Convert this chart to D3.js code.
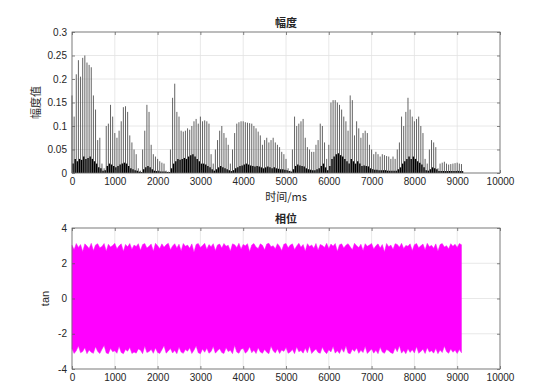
<!DOCTYPE html>
<html><head><meta charset="utf-8">
<script src="https://cdn.jsdelivr.net/npm/d3@7"></script>
<style>
body{margin:0;background:#fff}
svg{display:block}
text{font-family:"Liberation Sans",Arial,"Noto Sans CJK SC",sans-serif;fill:#262626}
.cjk{font-family:"Noto Sans CJK SC","Liberation Sans",sans-serif}
</style>
</head><body>
<svg id="c" width="554" height="383"></svg>
<script>
// ---------- data ----------
const ampStepMs = 50; // spacing of harmonic peaks (ms)
const ampPeaks = [
  0.165,0.12,0.21,0.24,0.205,0.245,0.25,0.235,0.23,0.225,
  0.165,0.135,0.07,0.075,0.02,0.01,0.10,0.105,0.145,0.12,
  0.085,0.075,0.09,0.11,0.14,0.142,0.13,0.08,0.065,0.05,
  0.04,0.01,0.005,0.05,0.09,0.145,0.13,0.06,0.04,0.035,
  0.03,0.025,0.022,0.02,0.005,0.003,0.05,0.16,0.19,0.13,
  0.12,0.09,0.088,0.09,0.095,0.092,0.10,0.11,0.115,0.105,
  0.12,0.11,0.112,0.11,0.105,0.04,0.02,0.05,0.07,0.09,
  0.10,0.085,0.075,0.06,0.02,0.05,0.085,0.105,0.108,0.11,
  0.11,0.108,0.107,0.106,0.105,0.10,0.095,0.088,0.08,0.06,
  0.07,0.075,0.065,0.07,0.075,0.065,0.06,0.055,0.045,0.04,
  0.03,0.01,0.005,0.05,0.12,0.10,0.105,0.11,0.115,0.075,
  0.055,0.05,0.045,0.045,0.06,0.07,0.105,0.10,0.065,0.03,
  0.06,0.15,0.155,0.155,0.15,0.145,0.135,0.12,0.11,0.09,
  0.165,0.155,0.08,0.11,0.095,0.075,0.085,0.09,0.085,0.06,
  0.05,0.04,0.045,0.04,0.035,0.04,0.038,0.036,0.035,0.03,
  0.035,0.03,0.05,0.065,0.12,0.10,0.13,0.16,0.135,0.12,
  0.11,0.115,0.12,0.10,0.085,0.03,0.02,0.05,0.07,0.065,
  0.055,0.01,0.02,0.022,0.024,0.02,0.018,0.019,0.02,0.021,
  0.022,0.02,0.019
];
const ampLow = [
  0.02,0.03,0.025,0.03,0.028,0.035,0.03,0.032,0.035,0.03,
  0.025,0.02,0.012,0.01,0.005,0.006,0.015,0.02,0.018,0.015,
  0.012,0.015,0.018,0.02,0.022,0.02,0.015,0.01,0.008,0.006,
  0.005,0.003,0.002,0.008,0.012,0.015,0.012,0.008,0.005,0.004,
  0.004,0.003,0.003,0.003,0.002,0.002,0.01,0.02,0.025,0.03,
  0.028,0.03,0.032,0.03,0.035,0.038,0.04,0.035,0.03,0.025,
  0.02,0.02,0.018,0.015,0.012,0.008,0.005,0.008,0.012,0.015,
  0.012,0.01,0.008,0.006,0.004,0.006,0.01,0.012,0.015,0.016,
  0.018,0.02,0.018,0.016,0.015,0.014,0.015,0.014,0.012,0.01,
  0.012,0.014,0.012,0.01,0.012,0.01,0.009,0.008,0.008,0.007,
  0.006,0.004,0.003,0.008,0.015,0.018,0.016,0.015,0.014,0.01,
  0.008,0.007,0.006,0.006,0.008,0.01,0.015,0.02,0.012,0.006,
  0.015,0.03,0.035,0.04,0.042,0.038,0.035,0.03,0.025,0.02,
  0.03,0.025,0.02,0.025,0.02,0.015,0.016,0.015,0.014,0.01,
  0.008,0.007,0.007,0.006,0.006,0.006,0.006,0.005,0.005,0.005,
  0.005,0.005,0.008,0.012,0.02,0.025,0.03,0.035,0.03,0.035,
  0.03,0.025,0.022,0.018,0.012,0.006,0.005,0.008,0.012,0.01,
  0.008,0.004,0.004,0.004,0.004,0.004,0.004,0.004,0.004,0.004,
  0.004,0.004,0.004
];
const phaseStepMs = 50;
const phaseTop = [
  3.02,2.78,3.12,2.90,3.06,2.66,3.10,2.98,2.84,3.13,
  2.72,3.04,3.11,2.88,2.95,3.12,2.70,3.08,2.92,3.01,
  3.13,2.82,2.99,3.10,2.68,3.07,2.93,3.12,2.80,3.03,
  2.95,3.11,2.74,3.06,3.12,2.86,2.97,3.09,2.69,3.13,
  3.00,2.83,3.10,2.91,3.05,3.13,2.77,2.98,3.11,2.87,
  3.08,2.71,3.12,2.96,3.03,2.85,3.10,2.64,3.07,3.12,
  2.90,3.01,3.13,2.79,3.06,2.94,3.11,2.73,3.04,3.09,
  2.86,3.12,2.97,3.02,2.70,3.10,3.05,2.89,3.13,2.81,
  3.07,2.99,3.11,2.67,3.04,3.12,2.92,2.84,3.10,3.02,
  2.76,3.09,3.13,2.93,3.00,2.82,3.11,2.96,2.72,3.08,
  3.12,2.88,3.03,3.10,2.78,2.98,3.13,2.91,3.06,2.69,
  3.11,2.95,3.04,2.85,3.12,2.75,3.07,3.01,2.90,3.13,
  2.83,3.09,2.97,3.12,2.68,3.05,3.10,2.87,3.02,3.11,
  2.94,2.76,3.13,3.00,2.89,3.08,2.73,3.11,2.96,3.04,
  3.12,2.81,2.99,3.10,2.86,3.06,2.65,3.12,2.93,3.03,
  2.79,3.11,3.07,2.91,3.13,2.84,3.01,2.97,3.10,2.72,
  3.05,3.12,2.88,2.99,3.09,2.77,3.13,2.94,3.02,2.85,
  3.10,2.70,3.06,3.12,2.92,3.00,2.82,3.11,2.96,3.08,
  2.90,3.12,3.05
];
const phaseBot = [
  -2.85,-3.12,-2.96,-2.70,-3.08,-3.01,-2.79,-3.13,-2.92,-3.05,
  -3.11,-2.74,-3.00,-3.12,-2.88,-2.66,-3.09,-3.13,-2.83,-3.02,
  -2.97,-3.11,-2.72,-3.06,-3.13,-2.90,-2.99,-2.78,-3.12,-3.04,
  -3.10,-2.86,-2.94,-3.13,-2.71,-3.07,-3.01,-2.89,-3.11,-2.81,
  -3.06,-3.12,-2.91,-2.68,-3.10,-2.98,-2.84,-3.09,-2.95,-3.13,
  -2.76,-3.04,-3.11,-2.90,-2.99,-2.80,-3.12,-2.93,-2.69,-3.08,
  -3.13,-2.87,-3.05,-2.82,-3.11,-3.00,-2.73,-3.10,-2.96,-2.85,
  -3.07,-3.12,-2.79,-3.01,-2.94,-3.13,-2.67,-3.04,-3.11,-2.88,
  -2.83,-3.10,-2.99,-2.74,-3.08,-2.93,-3.12,-2.80,-3.03,-3.11,
  -2.89,-3.05,-3.13,-2.71,-2.97,-3.09,-2.86,-3.12,-2.92,-3.00,
  -2.78,-3.11,-3.04,-2.90,-3.13,-2.75,-3.02,-2.95,-3.10,-2.82,
  -3.08,-2.69,-3.12,-2.98,-2.87,-3.06,-3.11,-2.77,-3.01,-3.13,
  -2.91,-3.03,-2.72,-3.10,-2.96,-3.12,-2.84,-3.05,-2.70,-3.09,
  -3.13,-2.88,-3.00,-2.81,-3.11,-2.94,-3.07,-2.73,-3.12,-2.99,
  -2.86,-3.10,-2.93,-3.13,-2.76,-3.04,-3.11,-2.89,-2.97,-3.08,
  -3.12,-2.80,-3.02,-2.68,-3.10,-2.95,-3.13,-2.85,-3.06,-2.91,
  -3.09,-2.74,-3.11,-3.00,-2.88,-3.12,-2.79,-3.04,-2.96,-3.10,
  -2.83,-3.13,-2.92,-3.07,-2.71,-3.01,-3.11,-2.87,-3.05,-2.94,
  -3.12,-2.90,-3.08
];
const xTicks = [0,1000,2000,3000,4000,5000,6000,7000,8000,9000,10000];
const ampTicks = [0,0.05,0.1,0.15,0.2,0.25,0.3];
const phaseTicks = [-4,-2,0,2,4];
const titles = ["幅度","相位"];
const xLabel = "时间/ms";
const yLabels = ["幅度值","tan"];

// ---------- layout ----------
const svg = d3.select("#c");
const L = 72, R = 500;
const panels = [
  {top:32, bottom:173, domain:[0,0.3], ticks:ampTicks, title:titles[0], ylab:yLabels[0], ylabX:40, cjk:true},
  {top:228, bottom:369, domain:[-4,4], ticks:phaseTicks, title:titles[1], ylab:yLabels[1], ylabX:49, cjk:false}
];
const x = d3.scaleLinear().domain([0,10000]).range([L,R]);

panels.forEach(p=>{
  const y = d3.scaleLinear().domain(p.domain).range([p.bottom,p.top]);
  p.y = y;
  const g = svg.append("g");
  g.selectAll(".gx").data(xTicks).enter().append("line")
    .attr("x1",d=>x(d)).attr("x2",d=>x(d)).attr("y1",p.top).attr("y2",p.bottom)
    .attr("stroke","#e2e2e2").attr("stroke-width",0.8);
  g.selectAll(".gy").data(p.ticks).enter().append("line")
    .attr("x1",L).attr("x2",R).attr("y1",d=>y(d)).attr("y2",d=>y(d))
    .attr("stroke","#e2e2e2").attr("stroke-width",0.8);
  p.g = g;
});

// amplitude spikes
const p0 = panels[0], y0 = p0.y;
const dataG = p0.g.append("g");
dataG.selectAll(".sp").data(ampPeaks).enter().append("line")
  .attr("x1",(d,i)=>x(i*ampStepMs)).attr("x2",(d,i)=>x(i*ampStepMs))
  .attr("y1",y0(0)).attr("y2",d=>y0(d))
  .attr("stroke","#484848").attr("stroke-width",0.85);
dataG.selectAll(".lw").data(ampLow).enter().append("line")
  .attr("x1",(d,i)=>x(i*ampStepMs+25)).attr("x2",(d,i)=>x(i*ampStepMs+25))
  .attr("y1",y0(0)).attr("y2",d=>y0(d))
  .attr("stroke","#000").attr("stroke-width",1.4);

// phase band
const p1 = panels[1], y1 = p1.y;
const band = phaseTop.map((t,i)=>({t:i*phaseStepMs, hi:t, lo:phaseBot[i]}));
p1.g.append("path").datum(band)
  .attr("d", d3.area().x(d=>x(d.t)).y0(d=>y1(d.lo)).y1(d=>y1(d.hi)))
  .attr("fill","#ff00ff").attr("stroke","#f020f0").attr("stroke-width",0.5);

// axes + box
panels.forEach(p=>{
  const g = p.g, y = p.y;
  const ax = g.append("g").attr("transform",`translate(0,${p.bottom})`)
    .call(d3.axisBottom(x).tickValues(xTicks).tickSizeInner(-3).tickSizeOuter(0).tickPadding(5).tickFormat(d=>String(d)));
  const axT = g.append("g").attr("transform",`translate(0,${p.top})`)
    .call(d3.axisTop(x).tickValues(xTicks).tickSizeInner(-3).tickSizeOuter(0).tickFormat(""));
  const ay = g.append("g").attr("transform",`translate(${L},0)`)
    .call(d3.axisLeft(y).tickValues(p.ticks).tickSizeInner(-3).tickSizeOuter(0).tickPadding(5).tickFormat(d=>String(d)));
  const ayR = g.append("g").attr("transform",`translate(${R},0)`)
    .call(d3.axisRight(y).tickValues(p.ticks).tickSizeInner(-3).tickSizeOuter(0).tickFormat(""));
  [ax,axT,ay,ayR].forEach(a=>{
    a.select(".domain").remove();
    a.selectAll("line").attr("stroke","#555").attr("stroke-width",0.7);
    a.selectAll("text").attr("font-size","10px").attr("fill","#262626")
      .attr("font-family","'Liberation Sans',Arial,sans-serif");
  });
  g.append("rect").attr("x",L).attr("y",p.top).attr("width",R-L).attr("height",p.bottom-p.top)
    .attr("fill","none").attr("stroke","#6a6a6a").attr("stroke-width",0.8);
  g.append("text").attr("class","cjk").attr("x",(L+R)/2).attr("y",p.top-5)
    .attr("text-anchor","middle").attr("font-size","11px").attr("font-weight","bold")
    .attr("fill","#111").text(p.title);
  g.append("text").attr("class",p.cjk?"cjk":"")
    .attr("transform",`translate(${p.ylabX},${(p.top+p.bottom)/2}) rotate(-90)`)
    .attr("text-anchor","middle").attr("font-size","11px").attr("fill","#262626")
    .attr("opacity",0.99).text(p.ylab);
});
svg.append("text").attr("class","cjk").attr("x",(L+R)/2).attr("y",201)
  .attr("text-anchor","middle").attr("font-size","11px").attr("fill","#262626").text(xLabel);
</script>
</body></html>
